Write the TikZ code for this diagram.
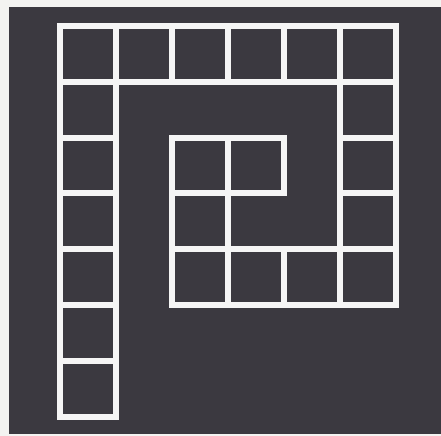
\documentclass[tikz,border=0pt]{standalone}
\usepackage{tikz}
\definecolor{BoardDark}{HTML}{3B3940}
\definecolor{PaperWhite}{HTML}{F3F3F1}
\definecolor{ChalkWhite}{HTML}{F5F5F5}

\begin{document}
\begin{tikzpicture}[x=0.02cm, y=-0.02cm,
    cellline/.style={draw=ChalkWhite, line width=0.12cm}]
                \useasboundingbox (0,0) rectangle (441,436);

                % Paper and dark board
                \fill[PaperWhite] (0,0) rectangle (441,436);
                \fill[BoardDark] (9,7) rectangle (441,434);

                % Spiral of cells, given as column/row
                \foreach \c/\r in {0/0, 0/1, 0/2, 0/3, 0/4, 0/5, 0/6,
                                   1/0, 2/0, 3/0, 4/0, 5/0,
                                   5/1, 5/2, 5/3,
                                   2/4, 3/4, 4/4, 5/4,
                                   2/2, 3/2, 2/3}
                    \draw[cellline] ({60+56*\c},{26+55.8*\r}) rectangle ++(56,55.8);
            \end{tikzpicture}
\end{document}
